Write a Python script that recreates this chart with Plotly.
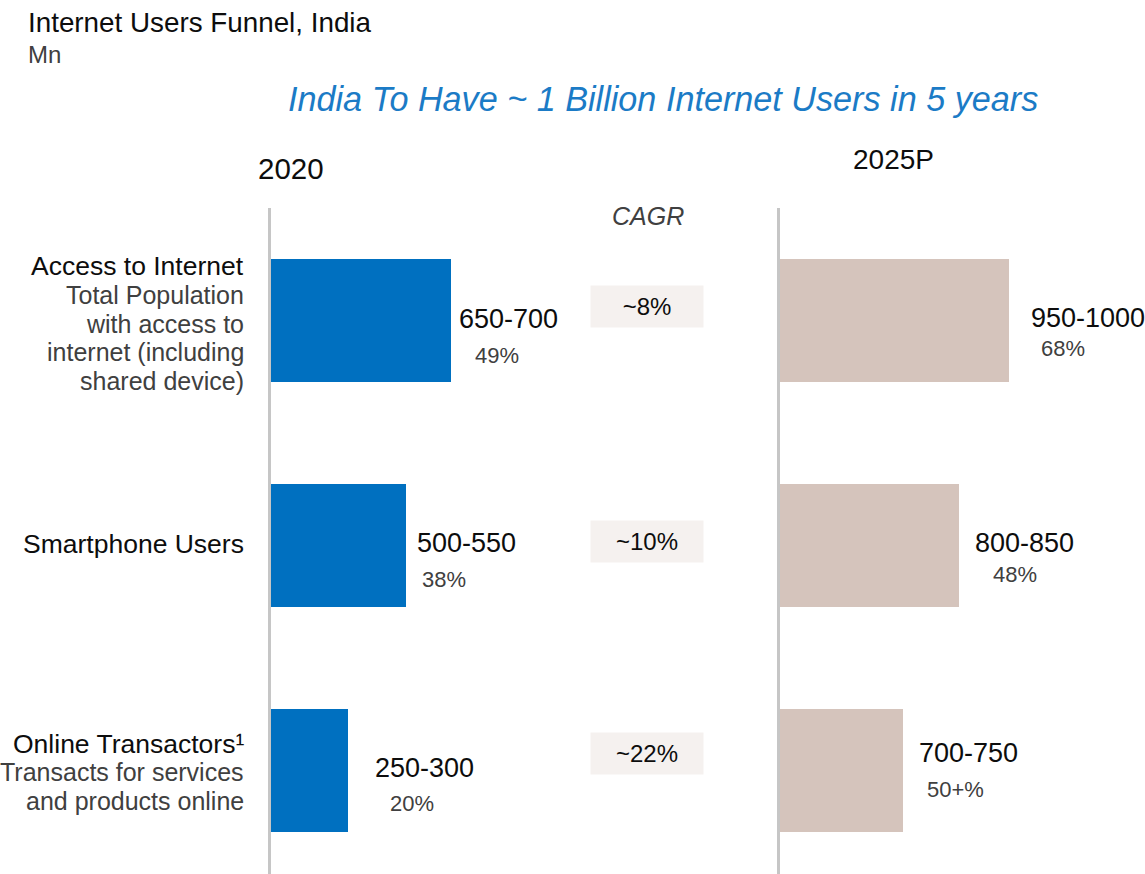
import plotly.graph_objects as go

W, H = 1145, 874

# ---------------- data ----------------
categories = ["Access to Internet", "Smartphone Users", "Online Transactors\u00b9"]
category_notes = [
    ["Total Population", "with access to", "internet (including", "shared device)"],
    [],
    ["Transacts for services", "and products online"],
]
range_2020 = ["650-700", "500-550", "250-300"]
share_2020 = ["49%", "38%", "20%"]
range_2025 = ["950-1000", "800-850", "700-750"]
share_2025 = ["68%", "48%", "50+%"]
cagr = ["~8%", "~10%", "~22%"]
# bar lengths as drawn in the reference (Mn scale, estimated)
bar_2020 = [675, 505, 290]
bar_2025 = [860, 670, 460]
rows = [0, 1, 2]

# ---------------- styles ----------------
FONT = "Liberation Sans"
BLUE = "#0070C0"
BEIGE = "#D5C4BC"
BOX = "#F5F1EF"
DARK = "#0D0D0D"
GREY = "#404040"
AXIS = "#C6C6C6"

# label placement (pixel offsets relative to bar end / row centre)
val20_dx, val20_dy = [6, 9, 25], [1, 2, 2]
pct20_dx, pct20_dy = [22, 14, 40], [-35, -34, -33]
val25_dx, val25_dy = [20, 14, 14], [2, 2, 17]
pct25_dx, pct25_dy = [30, 32, 22], [-28, -29, -19]
cagr_dy = [14, 3.5, 17]
cat_title_dy = [54, 1, 26]
cat_note_first_dy = [25, 0, -2]
NOTE_PITCH = 28.5


def px(x):
    return x / W


def py(y):
    return 1 - y / H


row_px = 225.0
y_top_px, y_bot_px, first_row_px = 207.5, 874.0, 320.0
y_lo = -(first_row_px - y_top_px) / row_px
y_hi = (y_bot_px - first_row_px) / row_px
x_max = 1125  # 300 px panel width

fig = go.Figure()
fig.add_trace(go.Bar(x=bar_2020, y=rows, orientation="h", width=0.547,
                     marker=dict(color=BLUE, line=dict(width=0)),
                     xaxis="x", yaxis="y", hoverinfo="skip", showlegend=False))
fig.add_trace(go.Bar(x=bar_2025, y=rows, orientation="h", width=0.547,
                     marker=dict(color=BEIGE, line=dict(width=0)),
                     xaxis="x2", yaxis="y2", hoverinfo="skip", showlegend=False))

ann = []
for i in rows:
    ann.append(dict(x=bar_2020[i], y=i, xref="x", yref="y", text=range_2020[i],
                    xanchor="left", yanchor="middle", xshift=val20_dx[i], yshift=val20_dy[i],
                    showarrow=False, font=dict(family=FONT, size=27, color=DARK)))
    ann.append(dict(x=bar_2020[i], y=i, xref="x", yref="y", text=share_2020[i],
                    xanchor="left", yanchor="middle", xshift=pct20_dx[i], yshift=pct20_dy[i],
                    showarrow=False, font=dict(family=FONT, size=22, color=GREY)))
    ann.append(dict(x=bar_2025[i], y=i, xref="x2", yref="y2", text=range_2025[i],
                    xanchor="left", yanchor="middle", xshift=val25_dx[i], yshift=val25_dy[i],
                    showarrow=False, font=dict(family=FONT, size=27, color=DARK)))
    ann.append(dict(x=bar_2025[i], y=i, xref="x2", yref="y2", text=share_2025[i],
                    xanchor="left", yanchor="middle", xshift=pct25_dx[i], yshift=pct25_dy[i],
                    showarrow=False, font=dict(family=FONT, size=22, color=GREY)))
    ann.append(dict(x=px(647), y=i, xref="paper", yref="y", text=cagr[i],
                    xanchor="center", yanchor="middle", yshift=cagr_dy[i], showarrow=False,
                    width=112, height=41, bgcolor=BOX, borderpad=0,
                    font=dict(family=FONT, size=24, color=DARK)))

for i in rows:
    ann.append(dict(x=px(246), y=i, xref="paper", yref="y", text=categories[i],
                    xanchor="right", yanchor="middle", align="right", yshift=cat_title_dy[i],
                    showarrow=False, font=dict(family=FONT, size=26.5, color=DARK)))
    for k, line in enumerate(category_notes[i]):
        ann.append(dict(x=px(246), y=i, xref="paper", yref="y", text=line,
                        xanchor="right", yanchor="middle", align="right",
                        yshift=cat_note_first_dy[i] - k * NOTE_PITCH,
                        showarrow=False, font=dict(family=FONT, size=25, color=GREY)))

ann += [
    dict(x=px(26), y=py(22), xref="paper", yref="paper", text="Internet Users Funnel, India",
         xanchor="left", yanchor="middle", showarrow=False,
         font=dict(family=FONT, size=27.8, color=DARK)),
    dict(x=px(26), y=py(55), xref="paper", yref="paper", text="Mn",
         xanchor="left", yanchor="middle", showarrow=False,
         font=dict(family=FONT, size=24, color=GREY)),
    dict(x=px(663), y=py(99), xref="paper", yref="paper",
         text="<i>India To Have ~ 1 Billion Internet Users in 5 years</i>",
         xanchor="center", yanchor="middle", showarrow=False,
         font=dict(family=FONT, size=34.2, color="#1B7BC6")),
    dict(x=px(291), y=py(168), xref="paper", yref="paper", text="2020",
         xanchor="center", yanchor="middle", showarrow=False,
         font=dict(family=FONT, size=29.5, color=DARK)),
    dict(x=px(893), y=py(160), xref="paper", yref="paper", text="2025P",
         xanchor="center", yanchor="middle", showarrow=False,
         font=dict(family=FONT, size=28, color=DARK)),
    dict(x=px(648), y=py(216), xref="paper", yref="paper", text="<i>CAGR</i>",
         xanchor="center", yanchor="middle", showarrow=False,
         font=dict(family=FONT, size=25, color=GREY)),
]

ydom = [0, py(y_top_px)]
fig.update_layout(
    width=W, height=H,
    margin=dict(l=0, r=0, t=0, b=0),
    paper_bgcolor="white", plot_bgcolor="rgba(0,0,0,0)",
    xaxis=dict(domain=[px(271), px(571)], range=[0, x_max], visible=False, fixedrange=True),
    xaxis2=dict(domain=[px(780), px(1080)], range=[0, x_max], visible=False, fixedrange=True),
    yaxis=dict(domain=ydom, range=[y_hi, y_lo], anchor="x", showline=True, linecolor=AXIS,
               linewidth=3, showgrid=False, zeroline=False, showticklabels=False, ticks="",
               fixedrange=True),
    yaxis2=dict(domain=ydom, range=[y_hi, y_lo], anchor="x2", showline=True, linecolor=AXIS,
                linewidth=3, showgrid=False, zeroline=False, showticklabels=False, ticks="",
                fixedrange=True),
    annotations=ann,
    bargap=0,
)

fig.write_html("out.html", config={"displayModeBar": False},
               post_script="document.body.style.margin='0';document.body.style.overflow='hidden';")
